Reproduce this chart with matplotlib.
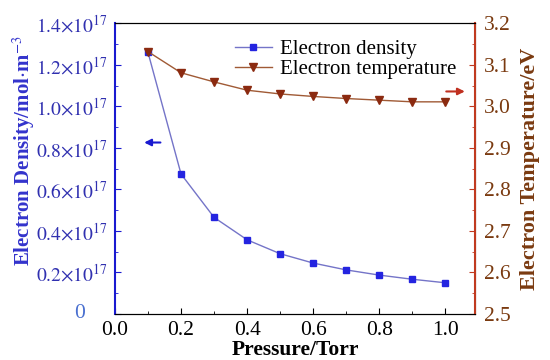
import matplotlib
matplotlib.use("Agg")
import matplotlib.pyplot as plt
import matplotlib.transforms as mtransforms
import numpy as np

plt.rcParams['font.family'] = ['Liberation Serif', 'DejaVu Serif']
plt.rcParams['mathtext.fontset'] = 'stix'

# данні
pressure = [0.1, 0.2, 0.3, 0.4, 0.5, 0.6, 0.7, 0.8, 0.9, 1.0]
density = [1.26, 0.674, 0.465, 0.357, 0.290, 0.245, 0.212, 0.187, 0.167, 0.150]  # x10^17
temperature = [3.132, 3.081, 3.059, 3.039, 3.030, 3.024, 3.019, 3.015, 3.011, 3.011]

dens_ticks = [0, 0.2, 0.4, 0.6, 0.8, 1.0, 1.2, 1.4]
dens_labels = [''] + [r'$%.1f{\times}10^{17}$' % v for v in dens_ticks[1:]]

blue = '#2424e0'
blue_line = '#7474c8'
blue_txt = '#3030b0'
brown = '#8b2a10'
brown_line = '#a05a35'
red_axis = '#c03a20'
brown_txt = '#7a3a10'

fig = plt.figure(figsize=(5.5, 3.6), dpi=100)
ax = fig.add_axes([0.209, 0.128, 0.655, 0.807])
ax2 = ax.twinx()

l1, = ax.plot(pressure, density, color=blue_line, lw=1, marker='s', ms=5,
              mfc=blue, mec=blue, label='Electron density')
l2, = ax2.plot(pressure, temperature, color=brown_line, lw=1, marker='v', ms=6,
               mfc=brown, mec=brown, label='Electron temperature')

ax.set_xlim(0, 1.09)
ax.set_ylim(0, 1.4)
ax2.set_ylim(2.5, 3.2)

ax.set_xticks(np.arange(0, 1.01, 0.2))
ax.set_xticklabels(['0.0', '0.2', '0.4', '0.6', '0.8', '1.0'])
ax.set_xticks(np.arange(0.1, 1.01, 0.2), minor=True)
ax.set_yticks(dens_ticks)
ax.set_yticklabels(dens_labels)
ax.set_yticks(np.arange(0.1, 1.4, 0.2), minor=True)
ax2.set_yticks(np.arange(2.5, 3.21, 0.1))
ax2.set_yticklabels(['%.1f' % v for v in np.arange(2.5, 3.21, 0.1)])
ax2.set_yticks(np.arange(2.55, 3.2, 0.1), minor=True)

ax.tick_params(axis='both', which='both', direction='in', labelsize=15.5)
ax.tick_params(axis='both', which='major', length=4)
ax.tick_params(axis='both', which='minor', length=2.5)
ax.tick_params(axis='x', which='major', pad=5)
ax.tick_params(axis='y', which='both', colors='#1a1ad0', labelcolor=blue_txt,
               pad=5, labelsize=14)
ax.tick_params(axis='x', which='both', colors='black')
ax2.tick_params(axis='y', which='both', direction='in', labelsize=15.5,
                colors=red_axis, labelcolor=brown_txt, pad=6)
ax2.tick_params(axis='y', which='major', length=4)
ax2.tick_params(axis='y', which='minor', length=2.5)

# окремий підпис нуля
trans = mtransforms.blended_transform_factory(ax.transAxes, ax.transData)
ax.text(-0.098, 0, '0', transform=trans, ha='center', va='center',
        fontsize=15.5, color='#4a70d0')

ax.spines['left'].set_color('#1a1ad0')
ax.spines['left'].set_linewidth(1.5)
ax2.spines['left'].set_visible(False)
ax2.spines['right'].set_color(red_axis)
ax2.spines['right'].set_linewidth(1.5)

ax.set_xlabel('Pressure/Torr', fontsize=15.5, fontweight='bold', labelpad=0)
ax.set_ylabel(r'Electron Density/mol$\cdot$m$^{-3}$', fontsize=15,
              fontweight='bold', color='#3333cc')
ax.yaxis.set_label_coords(-0.215, 0.56)
ax2.set_ylabel('Electron Temperature/eV', fontsize=16, fontweight='bold',
               color=brown_txt, labelpad=7)

ax2.legend(handles=[l1, l2], loc='upper left', bbox_to_anchor=(0.28, 1.01),
           frameon=False, fontsize=15, handlelength=1.8, labelspacing=0.05,
           handletextpad=0.4)

# стрілки
ax.annotate('', xy=(0.08, 0.826), xytext=(0.146, 0.826),
            arrowprops=dict(arrowstyle='-|>', color='#1a1ad0', lw=1.5))
ax2.annotate('', xy=(1.067, 3.036), xytext=(0.994, 3.036),
             arrowprops=dict(arrowstyle='-|>', color='#c03020', lw=1.5))

fig.savefig('out.png', dpi=100)
